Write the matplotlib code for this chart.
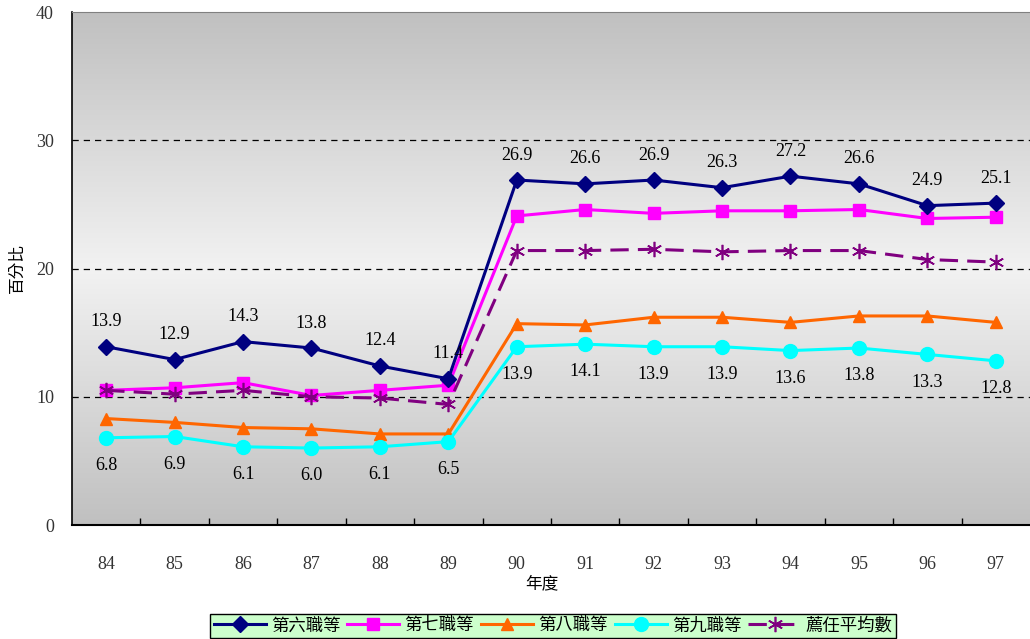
import matplotlib.pyplot as plt
import numpy as np

plt.rcParams['font.family'] = ['Liberation Serif', 'Noto Sans CJK TC', 'DejaVu Sans']

YEARS = ['84', '85', '86', '87', '88', '89', '90', '91', '92', '93', '94', '95', '96', '97']
GRADE6 = [13.9, 12.9, 14.3, 13.8, 12.4, 11.4, 26.9, 26.6, 26.9, 26.3, 27.2, 26.6, 24.9, 25.1]
GRADE7 = [10.5, 10.7, 11.1, 10.1, 10.5, 10.9, 24.1, 24.6, 24.3, 24.5, 24.5, 24.6, 23.9, 24.0]
GRADE8 = [8.3, 8.0, 7.6, 7.5, 7.1, 7.1, 15.7, 15.6, 16.2, 16.2, 15.8, 16.3, 16.3, 15.8]
GRADE9 = [6.8, 6.9, 6.1, 6.0, 6.1, 6.5, 13.9, 14.1, 13.9, 13.9, 13.6, 13.8, 13.3, 12.8]
AVERAGE = [10.5, 10.2, 10.5, 10.0, 9.9, 9.4, 21.4, 21.4, 21.5, 21.3, 21.4, 21.4, 20.7, 20.5]

fig = plt.figure(figsize=(10.3, 6.39), dpi=100)
ax = fig.add_axes([0.0699, 0.1784, 0.9301, 0.8028])

x = np.arange(len(YEARS))

# vertical grey gradient: darker at both ends, lightest around 20
levels = np.linspace(0, 40, 200)
shade = 192 + 50 * (1 - np.abs(levels - 20) / 20)
img = np.repeat((shade / 255.0)[:, None], 2, axis=1)
ax.imshow(np.dstack([img, img, img]), extent=[-0.5, 13.5, 0, 40],
          origin='lower', aspect='auto', zorder=0)

for yv in (10, 20, 30):
    ax.axhline(yv, color='black', lw=0.9, ls=(0, (5, 4)), zorder=1)

ax.plot(x, GRADE6, color='#000080', lw=2.2, marker='D', ms=8, label='第六職等', zorder=5)
ax.plot(x, GRADE7, color='#FF00FF', lw=2.2, marker='s', ms=9, label='第七職等', zorder=4)
ax.plot(x, GRADE8, color='#FF6600', lw=2.2, marker='^', ms=9, label='第八職等', zorder=4)
ax.plot(x, GRADE9, color='#00FFFF', lw=2.2, marker='o', ms=10, label='第九職等', zorder=4)
ax.plot(x, AVERAGE, color='#800080', lw=2.2, ls=(0, (6, 3)), marker=(6, 2, 0), ms=11,
        mew=1.2, label='薦任平均數', zorder=4)

for xi, v in zip(x, GRADE6):
    ax.annotate(f'{v:.1f}', (xi, v), xytext=(0, 18), textcoords='offset points',
                ha='center', va='center', fontsize=13, zorder=6)
for xi, v in zip(x, GRADE9):
    ax.annotate(f'{v:.1f}', (xi, v), xytext=(0, -20), textcoords='offset points',
                ha='center', va='center', fontsize=13, zorder=6)

ax.set_xlim(-0.5, 13.5)
ax.set_ylim(0, 40)
ax.set_yticks([0, 10, 20, 30, 40])
ax.set_xticks(x)
ax.set_xticklabels(YEARS)
ax.set_xticks(np.arange(0.5, 13.5, 1), minor=True)
ax.tick_params(axis='x', which='major', length=0, pad=22, labelsize=13, labelcolor='#333333')
ax.tick_params(axis='x', which='minor', direction='in', length=5, width=1)
ax.tick_params(axis='y', length=0, pad=13, labelsize=13, labelcolor='#333333')

ax.spines['right'].set_visible(False)
ax.spines['top'].set_color('#808080')
ax.spines['left'].set_linewidth(1.2)
ax.spines['bottom'].set_linewidth(1.5)

ax.set_xlabel('年度', fontsize=12)
ax.xaxis.set_label_coords(0.49, -0.1)
ax.set_ylabel('百分比', fontsize=12)
ax.yaxis.set_label_coords(-0.048, 0.5)

leg = fig.legend(loc='center', bbox_to_anchor=(0.537, 0.0205), ncol=5, fontsize=12.5,
                 frameon=True, fancybox=False, edgecolor='black', facecolor='#CCFFCC',
                 framealpha=1, handlelength=3.0, handletextpad=0.3, columnspacing=0.4,
                 borderpad=0.2, borderaxespad=0)
leg.get_frame().set_linewidth(1.0)

fig.savefig('out.png', dpi=100)
